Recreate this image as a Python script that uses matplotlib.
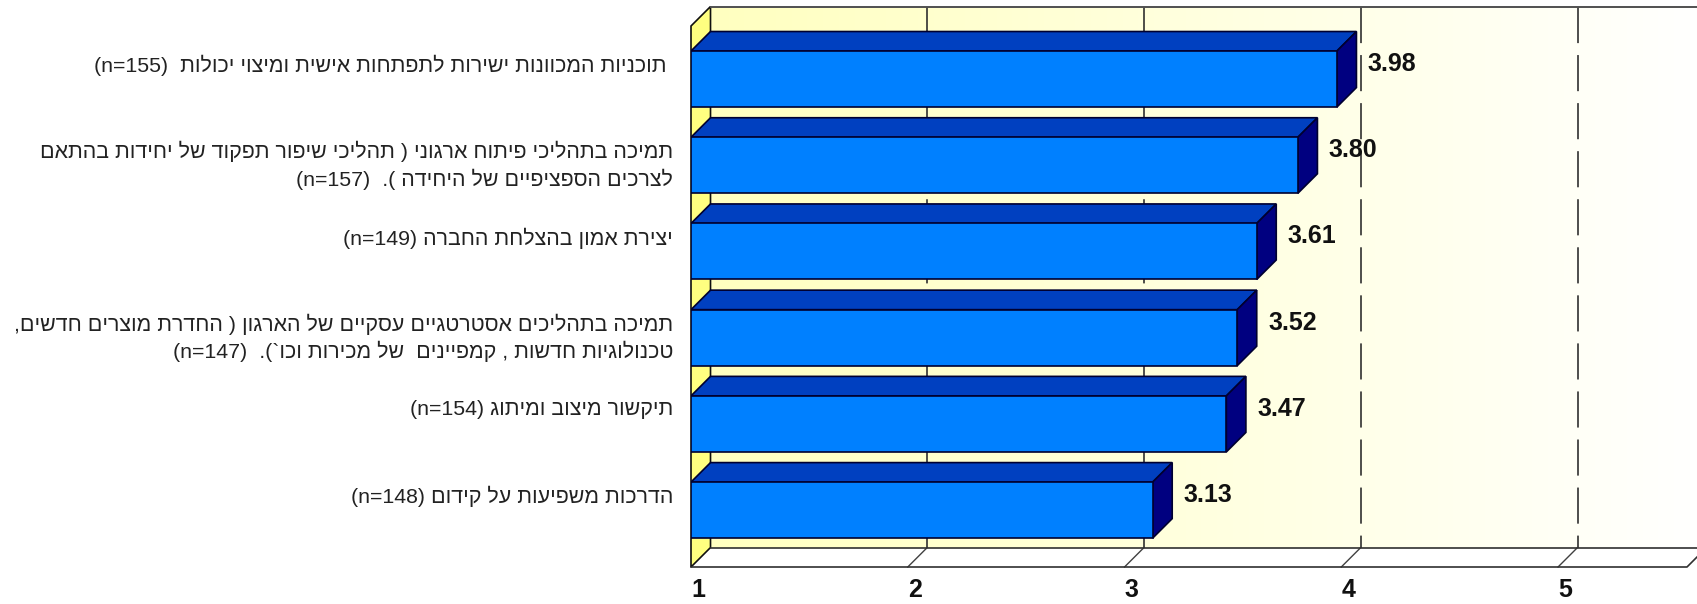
import re
import numpy as np
import matplotlib
matplotlib.use("Agg")
import matplotlib.pyplot as plt

plt.rcParams['font.family'] = ['Liberation Sans', 'DejaVu Sans']
plt.rcParams['lines.scale_dashes'] = False

# Data
scores = [3.98, 3.80, 3.61, 3.52, 3.47, 3.13]
labels = [
    " תוכניות המכוונות ישירות לתפתחות אישית ומיצוי יכולות  (n=155)",
    "תמיכה בתהליכי פיתוח ארגוני ( תהליכי שיפור תפקוד של יחידות בהתאם\nלצרכים הספציפיים של היחידה ).  (n=157)",
    "יצירת אמון בהצלחת החברה (n=149)",
    "תמיכה בתהליכים אסטרטגיים עסקיים של הארגון ( החדרת מוצרים חדשים,\nטכנולוגיות חדשות , קמפיינים  של מכירות וכו`).  (n=147)",
    "תיקשור מיצוב ומיתוג (n=154)",
    "הדרכות משפיעות על קידום (n=148)",
]
ticks = [1, 2, 3, 4, 5]

W, H = 1697, 604
X0, XMAX = 1, 5.595
Y_TOP, Y_BOT = -0.615, 5.66
DX, DY = 0.09, 0.226  # depth of the fake 3D box


def visual(line):
    # matplotlib has no bidi, so put the Hebrew in display order
    swap = {"(": ")", ")": "("}
    out = "".join(swap.get(c, c) for c in reversed(line))
    return re.sub(r"\d+=n", lambda m: m.group(0)[::-1], out)


def display_label(text):
    return "\n".join(visual(part) for part in text.split("\n"))


fig = plt.figure(figsize=(W / 100, H / 100), dpi=100)
ax = fig.add_axes([691 / W, 1 - 567 / H, (1687 - 691) / W, (567 - 26) / H])
ax.set_xlim(X0, XMAX)
ax.set_ylim(Y_BOT, Y_TOP)
ax.axis("off")

edge = "#101010"
wall_l, wall_r = X0 + DX, XMAX + DX
wall_t, wall_b = Y_TOP - DY, Y_BOT - DY

# back wall, pale yellow fading to white
cream = np.array([255, 255, 192]) / 255
grad = np.linspace(0, 1, 256)[None, :, None]
img = cream + (1 - cream) * grad
ax.imshow(img, extent=[wall_l, wall_r, wall_b, wall_t], aspect="auto",
          zorder=1, clip_on=False, interpolation="bilinear")
ax.set_xlim(X0, XMAX)
ax.set_ylim(Y_BOT, Y_TOP)

# grid lines on the wall and their slant over the floor
for t in ticks[1:] + [6]:
    if t < XMAX:
        ax.plot([t + DX, t + DX], [wall_t, wall_b], color="#303030", lw=1.2,
                linestyle=(0, (26, 8.6)), zorder=2, clip_on=False)
        ax.plot([t, t + DX], [Y_BOT, wall_b], color="#404040", lw=1, zorder=2, clip_on=False)

# left wall, floor outline
ax.fill([X0, wall_l, wall_l, X0], [Y_TOP, wall_t, wall_b, Y_BOT], fc="#FFFF80",
        ec=edge, lw=1.2, zorder=3, clip_on=False)
ax.plot([wall_l, wall_r], [wall_t, wall_t], color="#505050", lw=1.4, zorder=3, clip_on=False)
ax.plot([wall_l, wall_r], [wall_b, wall_b], color="#303030", lw=1.2, zorder=3, clip_on=False)
ax.plot([X0, XMAX, wall_r], [Y_BOT, Y_BOT, wall_b], color="#303030", lw=1.2, zorder=3, clip_on=False)

# bars
h = 0.65
for i, v in enumerate(scores):
    top, bot = i - h / 2, i + h / 2
    ax.fill([X0, X0 + DX, v + DX, v], [top, top - DY, top - DY, top], fc="#0040C0",
            ec="#000030", lw=1.2, zorder=4)
    ax.fill([v, v + DX, v + DX, v], [top, top - DY, bot - DY, bot], fc="#000080",
            ec="#000030", lw=1.2, zorder=4)
    ax.barh(i, v - X0, left=X0, height=h, color="#0080FF", edgecolor="#000030",
            linewidth=1.2, zorder=5)
    ax.annotate(f"{v:.2f}", (v, i), xytext=(31, 15), textcoords="offset pixels",
                fontsize=18, fontweight="bold", color="#111111", va="center", ha="left", zorder=6)
    ax.annotate(display_label(labels[i]), (X0, i), xytext=(-18, 24), textcoords="offset pixels",
                fontsize=15.4, color="#222222", ha="right", va="top", multialignment="right",
                linespacing=1.35, annotation_clip=False)

# value axis numbers
for t in ticks:
    ax.annotate(str(t), (t, Y_BOT), xytext=(0, -11), textcoords="offset pixels",
                fontsize=18, fontweight="bold", color="#111111", ha="left", va="top",
                annotation_clip=False)

fig.savefig("out.png", dpi=100)
